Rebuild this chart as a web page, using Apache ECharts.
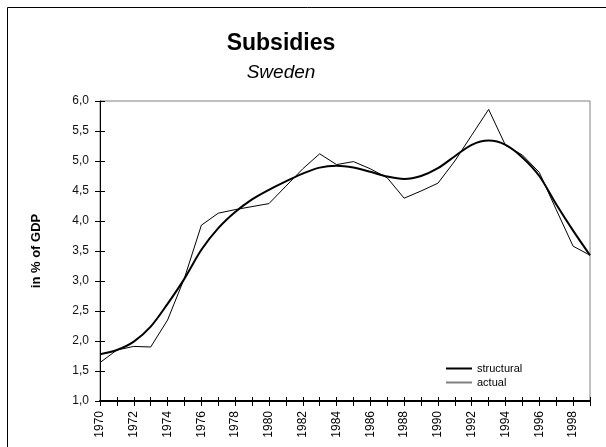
<!DOCTYPE html>
<html>
<head>
<meta charset="utf-8">
<script src="https://cdn.jsdelivr.net/npm/echarts@6/dist/echarts.min.js"></script>
<style>
html,body{margin:0;padding:0;background:#fff;overflow:hidden;}
#c{width:606px;height:447px;}
</style>
</head>
<body>
<div id="c"></div>
<script>
const years = ['1970','1971','1972','1973','1974','1975','1976','1977','1978','1979','1980','1981','1982','1983','1984','1985','1986','1987','1988','1989','1990','1991','1992','1993','1994','1995','1996','1997','1998','1999'];
const structural = [1.78,1.85,1.99,2.24,2.62,3.04,3.52,3.88,4.15,4.36,4.52,4.66,4.79,4.89,4.92,4.89,4.82,4.74,4.70,4.75,4.88,5.08,5.27,5.34,5.27,5.06,4.75,4.28,3.84,3.43];
const actual = [1.64,1.85,1.91,1.90,2.35,3.05,3.93,4.13,4.19,4.24,4.29,4.58,4.87,5.12,4.94,4.99,4.87,4.72,4.38,4.50,4.63,5.00,5.43,5.86,5.26,5.10,4.81,4.19,3.58,3.43];
const titleText = 'Subsidies';
const subtitleText = 'Sweden';
const yName = 'in % of GDP';

const font = 'Liberation Sans, Arial, sans-serif';
const chart = echarts.init(document.getElementById('c'), null, {renderer:'canvas'});
const fmt = v => v.toFixed(1).replace('.', ',');
chart.setOption({
  animation:false,
  backgroundColor:'#fff',
  graphic:[{type:'rect', shape:{x:7.5,y:7.5,width:700,height:600}, style:{fill:'none',stroke:'#000',lineWidth:1}, silent:true}],
  title:[
    {text:titleText, left:276, top:27, textAlign:'center', textStyle:{fontFamily:font,fontSize:23,fontWeight:'bold',color:'#000'}},
    {text:subtitleText, left:276, top:58, textAlign:'center', textStyle:{fontFamily:font,fontSize:19,fontStyle:'italic',fontWeight:'normal',color:'#000'}}
  ],
  grid:{left:100, top:101, width:490, height:300, show:true, borderColor:'#808080', borderWidth:1, backgroundColor:'transparent'},
  legend:{
    orient:'vertical', left:446, top:363, padding:0, itemWidth:26, itemHeight:2, itemGap:3,
    textStyle:{fontFamily:font,fontSize:11,color:'#000'},
    data:[{name:'structural', icon:'rect', itemStyle:{color:'#000'}},{name:'actual', icon:'rect', itemStyle:{color:'#808080'}}]
  },
  xAxis:[
    {type:'category', data:years, boundaryGap:false,
     axisLine:{lineStyle:{color:'#000',width:2}},
     axisTick:{interval:0,length:5,lineStyle:{color:'#000',width:1}},
     axisLabel:{interval:1, rotate:90, margin:10, fontFamily:font, fontSize:12, color:'#000'},
     splitLine:{show:false}},
    {type:'category', data:years, boundaryGap:false, position:'bottom',
     axisLine:{show:false},
     axisTick:{inside:true,interval:0,length:4,lineStyle:{color:'#000',width:1}},
     axisLabel:{show:false}, splitLine:{show:false}}
  ],
  yAxis:[
    {type:'value', min:1, max:6, interval:0.5, position:'left',
     name:yName, nameLocation:'middle', nameGap:57, nameRotate:90,
     nameTextStyle:{fontFamily:font,fontSize:13,fontWeight:'bold',color:'#000'},
     axisLine:{show:true,lineStyle:{color:'#000',width:1}},
     axisTick:{show:true,length:5,lineStyle:{color:'#000'}},
     axisLabel:{formatter:fmt, margin:11, fontFamily:font, fontSize:12, color:'#111'},
     splitLine:{show:false}},
    {type:'value', min:1, max:6, interval:0.5, position:'left',
     axisLine:{show:false},
     axisTick:{show:true,inside:true,length:5,lineStyle:{color:'#000'}},
     axisLabel:{show:false}, splitLine:{show:false}}
  ],
  series:[
    {name:'structural', type:'line', data:structural, smooth:0.3, symbol:'none', lineStyle:{color:'#000',width:2}, itemStyle:{color:'#000'}, z:3},
    {name:'actual', type:'line', data:actual, symbol:'none', lineStyle:{color:'#000',width:1}, itemStyle:{color:'#808080'}, z:2}
  ]
});
</script>
</body>
</html>
